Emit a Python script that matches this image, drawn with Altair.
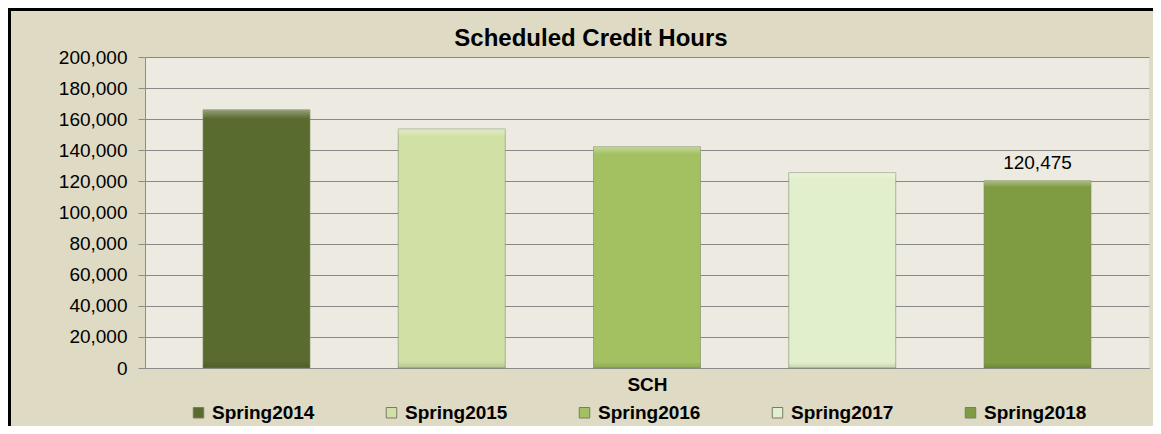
import altair as alt
import pandas as pd

series = ["Spring2014", "Spring2015", "Spring2016", "Spring2017", "Spring2018"]
values = [166000, 153700, 142300, 125600, 120475]
colors = ["#5A6B2F", "#D1E1A6", "#A3C161", "#E2EFCC", "#7F9C43"]
labelled = [False, False, False, False, True]
y_ticks = list(range(0, 200001, 20000))
chart_title = "Scheduled Credit Hours"

df = pd.DataFrame({"term": series, "sch": values, "show": labelled})

FONT = "Liberation Sans"

x_enc = alt.X(
    "term:N",
    sort=series,
    scale=alt.Scale(paddingInner=0.452, paddingOuter=0.297),
    axis=alt.Axis(
        title="SCH",
        labels=False,
        ticks=False,
        domainColor="#8C8C8C",
        titleFont=FONT,
        titleFontSize=19,
        titleFontWeight="bold",
        titleColor="black",
        titlePadding=7,
    ),
)
y_enc = alt.Y(
    "sch:Q",
    scale=alt.Scale(domain=[0, 200000], nice=False),
    axis=alt.Axis(
        title=None,
        values=y_ticks,
        format=",.0f",
        labelOverlap=False,
        labelFont=FONT,
        labelFontSize=19,
        labelColor="black",
        labelPadding=11,
        tickSize=7,
        tickColor="#8C8C8C",
        domainColor="#8C8C8C",
        gridColor="#888888",
        gridWidth=1.2,
    ),
)

base = alt.Chart(df)

bars = base.mark_bar(stroke="#7d8a68", strokeOpacity=0.6, strokeWidth=1).encode(
    x=x_enc,
    y=y_enc,
    color=alt.Color(
        "term:N",
        sort=series,
        scale=alt.Scale(domain=series, range=colors),
        legend=alt.Legend(
            title=None,
            orient="none",
            direction="horizontal",
            columns=5,
            legendX=44,
            legendY=346,
            padding=0,
            columnPadding=67,
            symbolType="square",
            symbolSize=110,
            symbolStrokeColor="#7a7a6a",
            symbolStrokeWidth=1,
            symbolOpacity=1,
            labelFont=FONT,
            labelFontSize=19,
            labelFontWeight="bold",
            labelColor="black",
            labelOffset=4,
        ),
    ),
)

overlay = base.mark_bar(
    fill=alt.Gradient(
        gradient="linear",
        x1=0, x2=0, y1=0, y2=1,
        stops=[
            alt.GradientStop(color="rgba(255,255,255,0.35)", offset=0),
            alt.GradientStop(color="rgba(255,255,255,0.0)", offset=0.035),
            alt.GradientStop(color="rgba(0,0,0,0.0)", offset=0.97),
            alt.GradientStop(color="rgba(0,0,0,0.12)", offset=1),
        ],
    )
).encode(x=x_enc, y=y_enc)

labels = base.transform_filter("datum.show").mark_text(
    font=FONT, fontSize=19, color="black", baseline="alphabetic", dy=-12
).encode(
    x=x_enc,
    y=y_enc,
    text=alt.Text("sch:Q", format=","),
)

frame_data = alt.Data(values=[{"k": chart_title}])
border_left = alt.Chart(frame_data).mark_rule(color="black", strokeWidth=3).encode(
    x=alt.value(-135.5), y=alt.value(-49), y2=alt.value(369)
)
border_top = alt.Chart(frame_data).mark_rule(color="black", strokeWidth=3).encode(
    x=alt.value(-137), x2=alt.value(1008), y=alt.value(-47.5)
)
title_text = alt.Chart(frame_data).mark_text(
    font=FONT, fontSize=24, fontWeight="bold", color="black",
    align="center", baseline="alphabetic",
).encode(
    x=alt.value(446), y=alt.value(-11.5), text="k:N"
)

chart = (
    alt.layer(bars, overlay, labels, border_left, border_top, title_text)
    .properties(
        width=1004,
        height=311,
        padding={"left": 137, "top": 49, "right": 4, "bottom": 58},
        autosize=alt.AutoSizeParams(type="none"),
        background="#DEDAC4",
    )
    .configure_view(fill="#EDEBE1", stroke=None)
)

chart.save("out.html", embed_options={"renderer": "svg", "actions": False})
